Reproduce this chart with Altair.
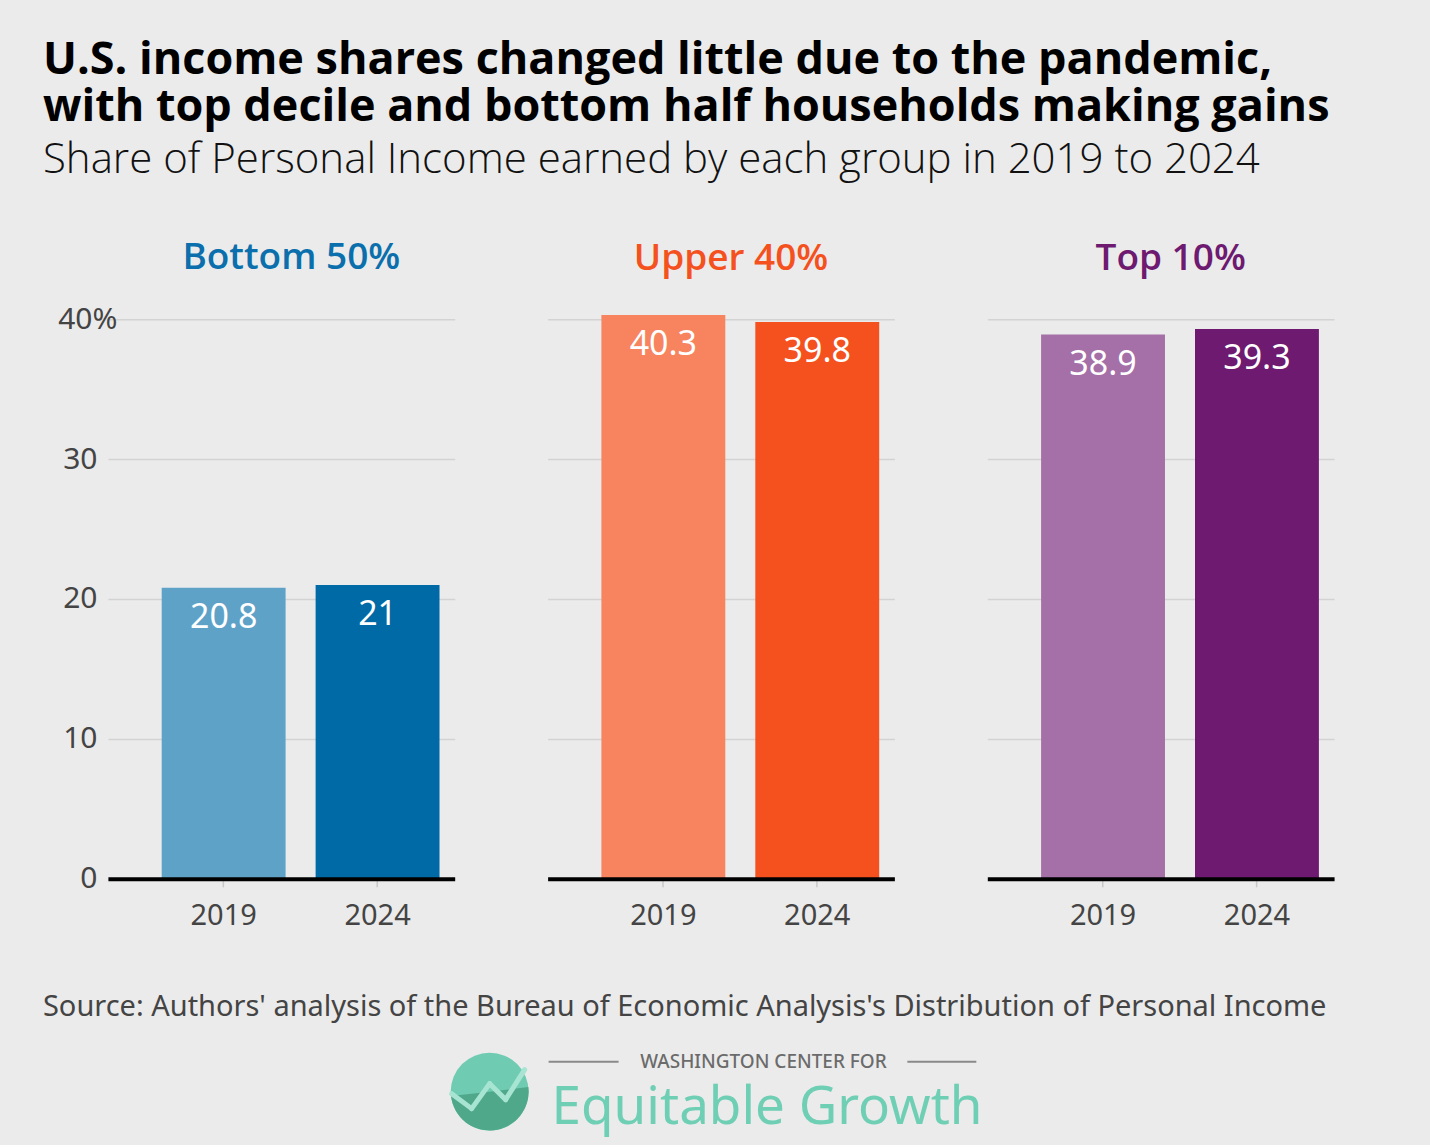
import altair as alt
import pandas as pd

# Share of personal income (%) by group
groups = ["Bottom 50%", "Upper 40%", "Top 10%"]
years = ["2019", "2024"]
shares_2019 = [20.8, 40.3, 38.9]
shares_2024 = [21.0, 39.8, 39.3]

# Palette: lighter shade for 2019, darker for 2024, title colour per group
light_colors = ["#5fa2c8", "#f7835f", "#a56fa7"]
dark_colors = ["#006aa7", "#f4511e", "#6d1a70"]
title_colors = ["#0a6fac", "#f4511e", "#6d1a70"]

y_ticks = [0, 10, 20, 30, 40]

title_lines = [
    "U.S. income shares changed little due to the pandemic,",
    "with top decile and bottom half households making gains",
]
subtitle_text = "Share of Personal Income earned by each group in 2019 to 2024"
source_text = ("Source: Authors' analysis of the Bureau of Economic Analysis's "
               "Distribution of Personal Income")
brand_top = "WASHINGTON CENTER FOR"
brand_name = "Equitable Growth"

BODY_FONT = "Noto Sans"
HEAD_FONT = "Open Sans"
PANEL_W = 347
Y_MAX = 41
PX_PER_UNIT = 14


def panel(i, show_labels):
    df = pd.DataFrame({
        "year": years,
        "share": [shares_2019[i], shares_2024[i]],
        "color": [light_colors[i], dark_colors[i]],
    })
    base = alt.Chart(df)

    x = alt.X(
        "year:N", title=None,
        scale=alt.Scale(paddingInner=0.195, paddingOuter=0.224, align=0.78),
        axis=alt.Axis(
            labelAngle=0, labelFont=BODY_FONT, labelFontSize=29,
            labelColor="#444444", labelPadding=15,
            domainColor="black", domainWidth=4,
            tickColor="#c8c8c8", tickSize=8, tickWidth=1.5, zindex=1,
        ),
    )
    if show_labels:
        y_axis = alt.Axis(
            values=y_ticks, grid=True, gridColor="#d3d3d3", gridWidth=1.5,
            domain=False, ticks=False,
            labelFont=BODY_FONT, labelFontSize=30, labelColor="#444444",
            labelExpr="datum.value == 40 ? '40%' : datum.label",
            labelPadding={"condition": {"test": "datum.value == 40", "value": -9},
                          "value": 11},
            minExtent=56, maxExtent=56,
        )
    else:
        y_axis = alt.Axis(
            values=y_ticks, grid=True, gridColor="#d3d3d3", gridWidth=1.5,
            domain=False, ticks=False, labels=False,
        )
    y = alt.Y("share:Q", title=None,
              scale=alt.Scale(domain=[0, Y_MAX], nice=False), axis=y_axis)

    bars = base.mark_bar().encode(
        x=x, y=y, color=alt.Color("color:N", scale=None)
    )
    values = base.mark_text(
        baseline="middle", dy=30, color="white",
        font=BODY_FONT, fontSize=34,
    ).encode(x=x, y=y, text=alt.Text("share:Q", format=".3~g"))

    return alt.layer(bars, values).properties(
        width=PANEL_W, height=Y_MAX * PX_PER_UNIT,
        title=alt.TitleParams(
            groups[i], color=title_colors[i], font=HEAD_FONT,
            fontSize=37, fontWeight=600, anchor="middle",
            frame="group", offset=27, dx=10,
        ),
    )


row = alt.hconcat(panel(0, True), panel(1, False), panel(2, False), spacing=93)

# Footer: source note and brand mark (positions relative to the footer area)
FOOT_W, FOOT_H = 1226, 195
one = pd.DataFrame({"k": [0]})

source = alt.Chart(pd.DataFrame({"t": [source_text]})).mark_text(
    align="left", baseline="middle", font=BODY_FONT, fontSize=29, color="#444444"
).encode(x=alt.value(-65), y=alt.value(66), text="t:N")

brand_small = alt.Chart(pd.DataFrame({"t": [brand_top]})).mark_text(
    align="center", baseline="middle", font=BODY_FONT, fontSize=19,
    fontWeight=500, color="#6b6b6b",
).encode(x=alt.value(656), y=alt.value(121), text="t:N")

brand_big = alt.Chart(pd.DataFrame({"t": [brand_name]})).mark_text(
    align="left", baseline="alphabetic", font=BODY_FONT, fontSize=53,
    color="#6fcfb4",
).encode(x=alt.value(444), y=alt.value(183), text="t:N")

rule_left = alt.Chart(one).mark_rule(color="#8a8a8a", strokeWidth=2).encode(
    x=alt.value(441), x2=alt.value(511), y=alt.value(121)
)
rule_right = alt.Chart(one).mark_rule(color="#8a8a8a", strokeWidth=2).encode(
    x=alt.value(800), x2=alt.value(869), y=alt.value(121)
)

disc = alt.Chart(one).mark_arc(
    radius=39, theta=0, theta2=6.2832, color="#6fcbb1"
).encode(x=alt.value(382), y=alt.value(151))
disc_low = alt.Chart(one).mark_arc(
    radius=39, theta=1.45, theta2=4.6, color="#4fa88a"
).encode(x=alt.value(382), y=alt.value(151))

zig_pts = [(344, 153), (364, 168), (382, 143), (398, 159), (417, 129)]
zig_layers = [
    alt.Chart(one).mark_rule(color="#a8e4d2", strokeWidth=5, strokeCap="round").encode(
        x=alt.value(a[0]), y=alt.value(a[1]), x2=alt.value(b[0]), y2=alt.value(b[1])
    )
    for a, b in zip(zig_pts[:-1], zig_pts[1:])
]

footer = alt.layer(
    source, rule_left, rule_right, brand_small, brand_big, disc, disc_low, *zig_layers
).properties(width=FOOT_W, height=FOOT_H)

chart = alt.vconcat(row, footer, spacing=10).properties(
    title=alt.TitleParams(
        text=title_lines, subtitle=subtitle_text,
        anchor="start", frame="bounds", offset=58,
        font=HEAD_FONT, fontSize=45, fontWeight="bold", color="black",
        lineHeight=47,
        subtitleFont=HEAD_FONT, subtitleFontSize=42, subtitleFontWeight=300,
        subtitleColor="#111111", subtitlePadding=10,
    ),
    padding={"left": 43, "top": 38, "right": 96, "bottom": 9},
    background="#ebebeb",
).configure_view(stroke=None)

chart.save("out.html", embed_options={"renderer": "svg", "actions": False})
